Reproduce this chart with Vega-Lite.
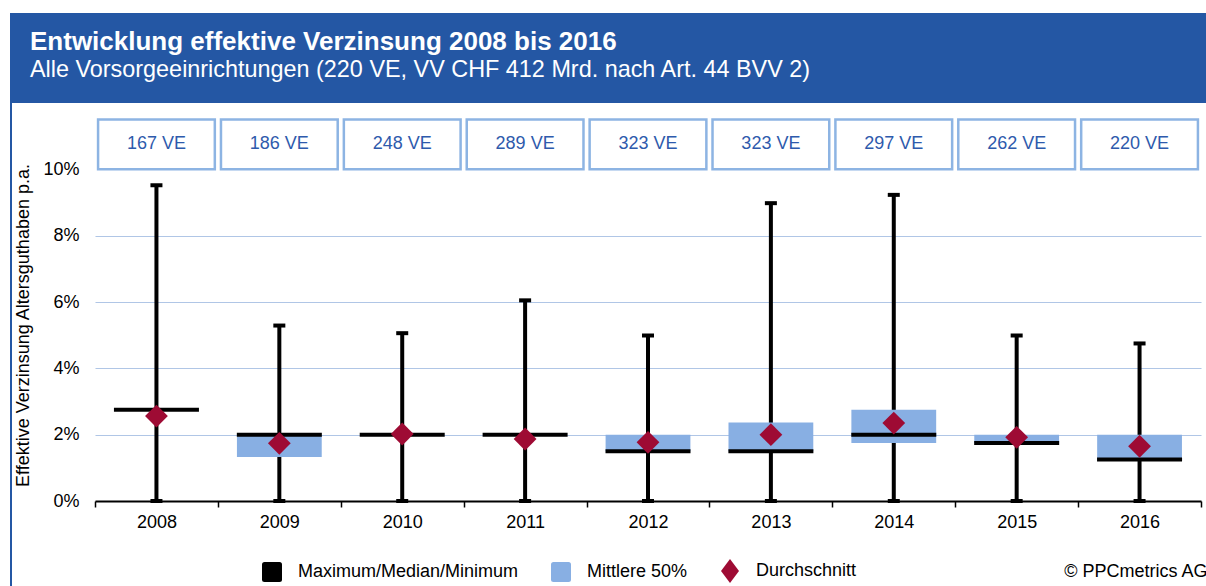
{
  "$schema": "https://vega.github.io/schema/vega-lite/v6.json",
  "padding": {"top": 13, "left": 10, "right": 0, "bottom": 0},
  "background": "white",
  "autosize": {"type": "pad"},
  "config": {
    "font": "Liberation Sans",
    "view": {"stroke": null}
  },
  "datasets": {
    "stats": [
      {"year": "2008", "ve": "167 VE", "min": 0, "max": 9.52, "q1": 2.75, "q3": 2.75, "median": 2.75, "mean": 2.56},
      {"year": "2009", "ve": "186 VE", "min": 0, "max": 5.29, "q1": 1.33, "q3": 2.0, "median": 2.0, "mean": 1.74},
      {"year": "2010", "ve": "248 VE", "min": 0, "max": 5.06, "q1": 2.0, "q3": 2.0, "median": 2.0, "mean": 2.02},
      {"year": "2011", "ve": "289 VE", "min": 0, "max": 6.05, "q1": 2.0, "q3": 2.0, "median": 2.0, "mean": 1.87},
      {"year": "2012", "ve": "323 VE", "min": 0, "max": 4.99, "q1": 1.5, "q3": 2.0, "median": 1.5, "mean": 1.77},
      {"year": "2013", "ve": "323 VE", "min": 0, "max": 8.98, "q1": 1.5, "q3": 2.37, "median": 1.5, "mean": 2.0},
      {"year": "2014", "ve": "297 VE", "min": 0, "max": 9.23, "q1": 1.75, "q3": 2.75, "median": 2.0, "mean": 2.35},
      {"year": "2015", "ve": "262 VE", "min": 0, "max": 4.99, "q1": 1.75, "q3": 2.0, "median": 1.75, "mean": 1.92},
      {"year": "2016", "ve": "220 VE", "min": 0, "max": 4.75, "q1": 1.25, "q3": 2.0, "median": 1.25, "mean": 1.65}
    ]
  },
  "spacing": 0,
  "vconcat": [
    {
      "width": 1196,
      "height": 90,
      "view": {"fill": "#2457A4", "stroke": null},
      "title": {
        "text": "Entwicklung effektive Verzinsung 2008 bis 2016",
        "subtitle": "Alle Vorsorgeeinrichtungen (220 VE, VV CHF 412 Mrd. nach Art. 44 BVV 2)",
        "anchor": "start",
        "frame": "group",
        "orient": "top",
        "offset": -68,
        "dx": 20,
        "color": "white",
        "subtitleColor": "white",
        "font": "Liberation Sans",
        "subtitleFont": "Liberation Sans",
        "fontSize": 26,
        "fontWeight": "bold",
        "subtitleFontSize": 23.4,
        "subtitlePadding": 4
      },
      "data": {"values": []},
      "mark": "rule",
      "encoding": {}
    },
    {
      "spacing": 2,
      "hconcat": [
        {
          "width": 2,
          "height": 483,
          "view": {"fill": "#2457A4", "stroke": null},
          "data": {"values": []},
          "mark": "rule",
          "encoding": {}
        },
        {
          "width": 1106,
          "height": 398,
          "data": {"name": "stats"},
          "encoding": {
            "x": {
              "field": "year",
              "type": "ordinal",
              "scale": {"paddingInner": 0, "paddingOuter": 0},
              "axis": {
                "title": "© PPCmetrics AG",
                "titleX": 1112,
                "titleY": 75,
                "titleAlign": "right",
                "titleAnchor": null,
                "titleBaseline": "alphabetic",
                "titleFontSize": 18,
                "titleFontWeight": "normal",
                "titleColor": "black",
                "tickBand": "extent",
                "labelAngle": 0,
                "labelFontSize": 18,
                "labelColor": "black",
                "labelPadding": 6,
                "tickSize": 6,
                "tickColor": "black",
                "tickWidth": 1.5,
                "domainColor": "black",
                "domainWidth": 2,
                "grid": false
              }
            }
          },
          "layer": [
            {
              "mark": {"type": "bar", "fill": "white", "stroke": "#8DB4E3", "strokeWidth": 2.5, "width": {"band": 0.95}},
              "encoding": {
                "y": {
                  "datum": 10,
                  "type": "quantitative",
                  "scale": {"domain": [0, 12], "nice": false, "zero": true},
                  "axis": {
                    "title": "Effektive Verzinsung Altersguthaben p.a.",
                    "titleFontSize": 18,
                    "titleFontWeight": "normal",
                    "titleColor": "black",
                    "titlePadding": 10,
                    "titleY": 222,
                    "values": [0, 2, 4, 6, 8, 10],
                    "labelExpr": "datum.value + '%'",
                    "labelFontSize": 18,
                    "labelColor": "black",
                    "labelPadding": 16,
                    "ticks": false,
                    "domain": false,
                    "grid": true,
                    "gridColor": {"condition": {"test": "datum.value > 9 || datum.value < 1", "value": "transparent"}, "value": "#B0C6E6"},
                    "gridWidth": 1.2
                  }
                },
                "y2": {"datum": 11.5}
              }
            },
            {
              "mark": {"type": "text", "fontSize": 18, "color": "#2E5AAC", "baseline": "middle"},
              "encoding": {
                "y": {"datum": 10.75, "type": "quantitative"},
                "text": {"field": "ve"}
              }
            },
            {
              "mark": {"type": "rule", "strokeWidth": 4},
              "encoding": {
                "y": {"field": "min", "type": "quantitative"},
                "y2": {"field": "max"},
                "color": {
                  "datum": "Maximum/Median/Minimum",
                  "type": "nominal",
                  "scale": {
                    "domain": ["Maximum/Median/Minimum", "Mittlere 50%", "Durchschnitt"],
                    "range": ["black", "#88AFE3", "#9E0B34"]
                  },
                  "legend": {
                    "orient": "none",
                    "legendX": 252,
                    "legendY": 548,
                    "direction": "horizontal",
                    "title": null,
                    "padding": 0,
                    "labelFontSize": 18,
                    "labelColor": "black",
                    "labelFont": "Liberation Sans",
                    "labelLimit": 400,
                    "symbolSize": 400,
                    "labelOffset": 16,
                    "columnPadding": 32,
                    "encode": {
                      "symbols": {
                        "update": {
                          "shape": {"signal": "datum.label === 'Durchschnitt' ? 'M0,-1.2L0.9,0L0,1.2L-0.9,0Z' : 'M-1,-0.75Q-1,-1,-0.75,-1L0.75,-1Q1,-1,1,-0.75L1,0.75Q1,1,0.75,1L-0.75,1Q-1,1,-1,0.75Z'"},
                          "fill": {"scale": "color", "field": "value"},
                          "stroke": {"value": "transparent"},
                          "strokeWidth": {"value": 0},
                          "opacity": {"value": 1},
                          "fillOpacity": {"value": 1},
                          "size": {"value": 400}
                        }
                      }
                    }
                  }
                }
              }
            },
            {
              "mark": {"type": "bar", "width": {"band": 0.69}},
              "encoding": {
                "y": {"field": "q1", "type": "quantitative"},
                "y2": {"field": "q3"},
                "color": {"datum": "Mittlere 50%", "type": "nominal"}
              }
            },
            {
              "mark": {"type": "tick", "color": "black", "size": 85, "thickness": 4, "opacity": 1},
              "encoding": {
                "y": {"field": "median", "type": "quantitative"}
              }
            },
            {
              "mark": {"type": "tick", "color": "black", "size": 12, "thickness": 4, "opacity": 1},
              "encoding": {
                "y": {"field": "max", "type": "quantitative"}
              }
            },
            {
              "mark": {"type": "tick", "color": "black", "size": 12, "thickness": 4, "opacity": 1},
              "encoding": {
                "y": {"field": "min", "type": "quantitative"}
              }
            },
            {
              "mark": {"type": "point", "shape": "diamond", "filled": true, "opacity": 1, "size": 520},
              "encoding": {
                "y": {"field": "mean", "type": "quantitative"},
                "color": {"datum": "Durchschnitt", "type": "nominal"}
              }
            }
          ]
        }
      ]
    }
  ]
}
